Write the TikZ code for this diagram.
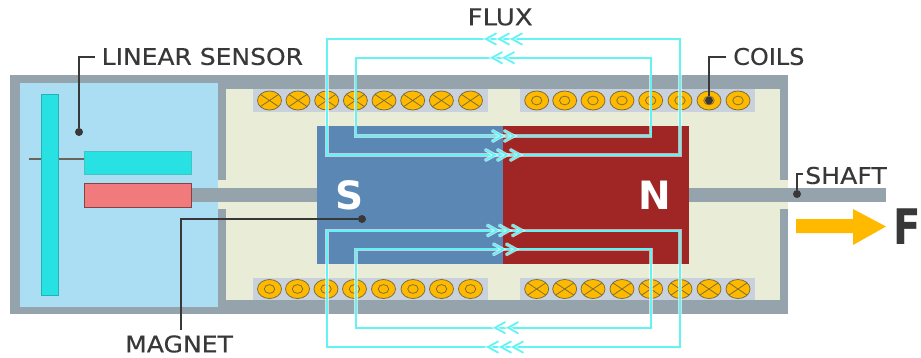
\documentclass[tikz,border=0pt]{standalone}
\usepackage{fontspec}
\setmainfont{DejaVu Sans}
\newfontfamily\lblfont[FakeBold=0.35]{DejaVu Sans}
\usetikzlibrary{shapes.geometric,shapes.misc}
\definecolor{wallc}{HTML}{95A3AC}
\definecolor{bluec}{HTML}{ABDEF2}
\definecolor{beigec}{HTML}{E9EDD7}
\definecolor{coilbg}{HTML}{C9D1DC}
\definecolor{coilc}{HTML}{FFBA00}
\definecolor{coille}{HTML}{7E6F3A}
\definecolor{sc}{HTML}{5B87B5}
\definecolor{nc}{HTML}{A02626}
\definecolor{cyanb}{HTML}{27E1E3}
\definecolor{redb}{HTML}{F07A7C}
\definecolor{fluxc}{HTML}{62F4F4}
\definecolor{inkc}{HTML}{383838}
\definecolor{stemc}{HTML}{6B6558}
\tikzset{
  x=1pt,y=-1pt,
  block/.style={inner sep=0pt,outer sep=0pt},
  coilbase/.style={ellipse,draw=coille,line width=0.8pt,fill=coilc,minimum width=24pt,minimum height=19pt,inner sep=0pt},
  label/.style={text=inkc,font=\lblfont\fontsize{23}{23}\selectfont,inner sep=0pt,anchor=west},
  leader/.style={draw=inkc,line width=1.6pt},
  dotn/.style={circle,fill=inkc,minimum size=8pt,inner sep=0pt},
  fluxl/.style={draw=fluxc,line width=2pt,preaction={draw=white,draw opacity=0.6,line width=3.4pt}},
  chev/.style={draw=fluxc,line width=1.8pt,line cap=round,line join=miter,preaction={draw=white,draw opacity=0.7,line width=3.4pt}},
}
\newcommand{\coilx}[3]{%
  \node[coilbase] (#3) at (#1,#2) {};
  \draw[coille,line width=0.8pt] (#1-9.2,#2-6.2) -- (#1+9.2,#2+6.2) (#1-9.2,#2+6.2) -- (#1+9.2,#2-6.2);
}
\newcommand{\coilo}[3]{%
  \node[coilbase] (#3) at (#1,#2) {};
  \draw[coille,line width=0.8pt] (#1,#2) ellipse[x radius=5.2,y radius=4.4];
}
\newcommand{\chevl}[2]{\draw[chev] (#1+10,#2-5.5) -- (#1,#2) -- (#1+10,#2+5.5);}
\newcommand{\chevr}[2]{\draw[chev] (#1-10,#2-5.5) -- (#1,#2) -- (#1-10,#2+5.5);}
\begin{document}
\begin{tikzpicture}
\useasboundingbox (0,0) rectangle (921,357);
\fill[white] (0,0) rectangle (921,357);
% frame and chambers
\fill[wallc] (10,75) rectangle (788,314);
\fill[bluec] (19.5,82.5) rectangle (217.5,307);
\fill[beigec] (226,89) rectangle (779.5,300.3);
\fill[beigec] (217.5,180) rectangle (226,209);
\fill[beigec] (779,180) rectangle (788,209);
% coil strips
\fill[coilbg] (253,89) rectangle (488,111.5);
\fill[coilbg] (520,89) rectangle (755,111.5);
\fill[coilbg] (253,278) rectangle (488,300.3);
\fill[coilbg] (520,278) rectangle (755,300.3);
% sensor
\draw[stemc,line width=2pt] (29,158.5) -- (84.5,158.5);
\node[block,draw=cyanb!80!black,line width=0.4pt,fill=cyanb,minimum width=17pt,minimum height=201pt] (bar) at (49.5,195) {};
\node[block,draw=cyanb!70!gray,line width=0.6pt,fill=cyanb,minimum width=107pt,minimum height=23.5pt] (cbox) at (138,162.7) {};
% shaft and magnet
\fill[wallc] (191,187.5) rectangle (886,201.7);
\node[block,draw=redb!55!black,line width=0.6pt,fill=redb,minimum width=107pt,minimum height=24pt] (rbox) at (138,195) {};
\node[block,fill=sc,minimum width=185.5pt,minimum height=138pt] (smag) at (409.75,194.5) {};
\node[block,fill=nc,minimum width=186.5pt,minimum height=138pt] (nmag) at (595.75,194.5) {};
\node[text=white,font=\bfseries\fontsize{39}{39}\selectfont,inner sep=0pt] (slet) at (349.5,195) {S};
\node[text=white,font=\bfseries\fontsize{39}{39}\selectfont,inner sep=0pt] (nlet) at (654.5,195) {N};
% coils
\foreach \x [count=\i] in {269.5,298,326.7,355.4,384,412.7,441.4,470.5} {\coilx{\x}{100.5}{tl\i}}
\foreach \x [count=\i] in {536.7,564.7,593,622,650.7,680,709,738} {\coilo{\x}{100.5}{tr\i}}
\foreach \x [count=\i] in {269.5,297.5,326,354.5,383.5,413,441.5,470.5} {\coilo{\x}{289}{bl\i}}
\foreach \x [count=\i] in {536.7,564.7,593,622,650.7,680,709,738} {\coilx{\x}{289}{br\i}}
% flux loops
\draw[fluxl] (327,39) rectangle (680,155);
\draw[fluxl] (355.5,57.7) rectangle (650.7,136);
\draw[fluxl] (327,230.5) rectangle (680,347);
\draw[fluxl] (356,249.3) rectangle (651,327.7);
\foreach \x in {486,499,512} {\chevl{\x}{39}}
\foreach \x in {492,504} {\chevl{\x}{57.7}}
\foreach \x in {495,507,520} {\chevr{\x}{155}}
\foreach \x in {502,514} {\chevr{\x}{136}}
\foreach \x in {497,509,522} {\chevr{\x}{230.5}}
\foreach \x in {503,516} {\chevr{\x}{249.3}}
\foreach \x in {495,508} {\chevl{\x}{327.7}}
\foreach \x in {488,501,513} {\chevl{\x}{347}}
% force arrow
\fill[coilc] (796,219) -- (853,219) -- (853,209) -- (886,226.5) -- (853,245) -- (853,233) -- (796,233) -- cycle;
\node[text=inkc,font=\bfseries\fontsize{49}{49}\selectfont,inner sep=0pt,anchor=west] (force) at (893.3,227) {\scalebox{0.82}[1]{F}};
% labels and leaders
\node[label] (lsens) at (101.5,56.5) {\scalebox{1.086}[1]{LINEAR SENSOR}};
\node[label] (lcoil) at (733,56.5) {\scalebox{1.042}[1]{COILS}};
\node[label] (lflux) at (467.5,17) {\scalebox{1.129}[1]{FLUX}};
\node[label] (lmag) at (125,344) {\scalebox{1.09}[1]{MAGNET}};
\node[label] (lshaft) at (805,175.5) {\scalebox{1.095}[1]{SHAFT}};
\node[dotn] (dsens) at (79,132) {};
\node[dotn] (dcoil) at (709,100.5) {};
\node[dotn] (dmag) at (362,219) {};
\node[dotn] (dshaft) at (797,194) {};
\coordinate (csens) at (95,57);
\coordinate (ccoil) at (725.5,57);
\coordinate (cmag) at (181,330);
\coordinate (cshaft) at (803,174);
\draw[leader] (csens) -| (dsens);
\draw[leader] (ccoil) -| (dcoil);
\draw[leader] (cmag) |- (dmag);
\draw[leader] (cshaft) -| (dshaft);
\end{tikzpicture}
\end{document}
